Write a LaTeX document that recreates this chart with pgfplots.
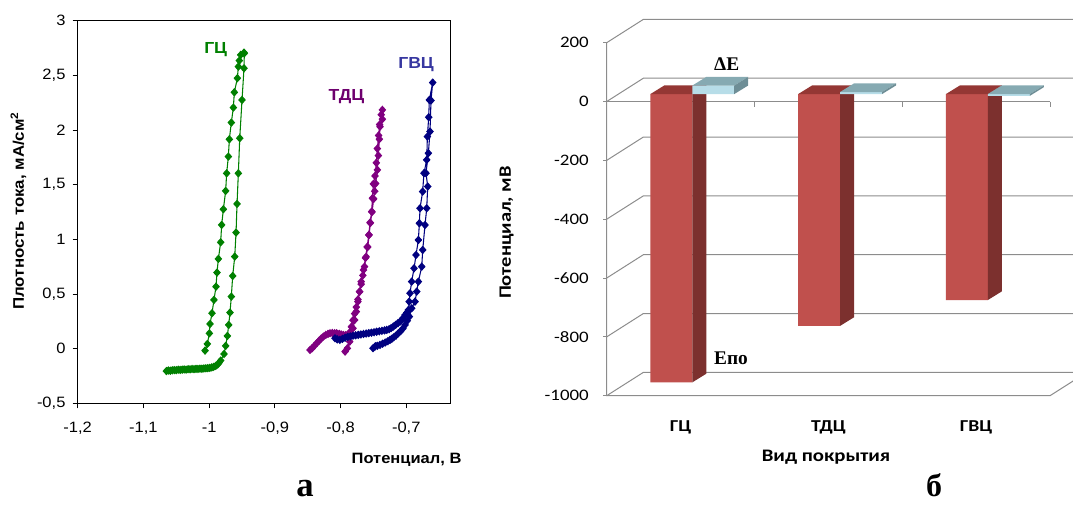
\documentclass[border=0pt]{standalone}
\usepackage{fontspec}
\setmainfont{Liberation Sans}[FakeStretch=1.1]
\newfontfamily\calib{Carlito}[FakeStretch=1.18]
\newfontfamily\tnr{Liberation Serif}
\usepackage{pgfplots}
\usepackage{pgfplotstable}
\pgfplotsset{compat=1.18}

\definecolor{gcz}{RGB}{0,128,0}
\definecolor{tdz}{RGB}{128,0,128}
\definecolor{gvz}{RGB}{0,0,128}
\definecolor{tdzlab}{RGB}{110,0,110}
\definecolor{gvzlab}{RGB}{55,55,160}
\definecolor{redfront}{RGB}{192,80,77}
\definecolor{redtop}{RGB}{148,55,52}
\definecolor{redside}{RGB}{124,48,46}
\definecolor{bluefront}{RGB}{183,221,232}
\definecolor{bluetop}{RGB}{134,170,178}
\definecolor{blueside}{RGB}{110,142,150}
\definecolor{gridc}{RGB}{140,140,140}

% potentials of the coatings, mV
\pgfplotstableread{
cat Epo dE
0 -980 29
1 -788 7
2 -700 -6
}\potdata

% bar plane offset and bar depth (pseudo 3D)
\def\bsx{8.74pt}\def\bsy{5.55pt}
\def\bdx{10.5pt}\def\bdy{6.5pt}

\newcommand\barfaces[5]{%
  \pgfmathsetmacro\ftop{max(#3,0)}%
  \pgfmathsetmacro\fbot{min(#3,0)}%
  \edef\tmp{%
    \noexpand\fill[#4] ([shift={(\bsx,\bsy)}]axis cs:#1,\ftop) -- ([shift={(\bsx,\bsy)}]axis cs:#2,\ftop)
      -- ([shift={(\bsx+\bdx,\bsy+\bdy)}]axis cs:#2,\ftop) -- ([shift={(\bsx+\bdx,\bsy+\bdy)}]axis cs:#1,\ftop) -- cycle;
    \noexpand\fill[#5] ([shift={(\bsx,\bsy)}]axis cs:#2,\ftop) -- ([shift={(\bsx,\bsy)}]axis cs:#2,\fbot)
      -- ([shift={(\bsx+\bdx,\bsy+\bdy)}]axis cs:#2,\fbot) -- ([shift={(\bsx+\bdx,\bsy+\bdy)}]axis cs:#2,\ftop) -- cycle;
  }\tmp}

\begin{document}
\begin{tikzpicture}
\useasboundingbox (0pt,0pt) rectangle (804.75pt,379.5pt);

%% ---------- panel a ----------
\begin{axis}[
  at={(58.275pt,77.025pt)}, anchor=south west,
  width=279.75pt, height=286.95pt, scale only axis,
  xmin=-1.2, xmax=-0.6323, ymin=-0.5, ymax=3,
  xtick={-1.2,-1.1,-1,-0.9,-0.8,-0.7},
  xticklabels={{-1,2},{-1,1},{-1},{-0,9},{-0,8},{-0,7}},
  ytick={-0.5,0,0.5,1,1.5,2,2.5,3},
  yticklabels={{-0,5},0,{0,5},1,{1,5},2,{2,5},3},
  tick align=outside, xtick pos=bottom, ytick pos=left,
  major tick length=3.75pt,
  tick style={black, line width=0.6pt},
  axis line style={black, line width=0.7pt},
  ticklabel style={font=\fontsize{11.25}{13}\selectfont},
  xticklabel style={anchor=base, inner sep=0pt, yshift=-18.5pt},
  yticklabel style={anchor=east, inner sep=0pt, xshift=-5.25pt},
  xlabel={Потенциал, В},
  xlabel style={at={(axis description cs:1.0295,-0.1568)}, anchor=base east,
    inner sep=0pt, font=\bfseries\fontsize{11.25}{13}\selectfont},
  ylabel={Плотность тока, мА/см\textsuperscript{2}},
  ylabel style={at={(axis description cs:-0.144,0.503)}, anchor=base,
    inner sep=0pt, font=\bfseries\fontsize{11.5}{13}\selectfont},
  every axis plot/.append style={line width=0.8pt, mark=diamond*, mark size=2.6pt,
    mark options={xscale=1.2, solid}},
]
% ГЦ
\addplot[gcz] table {
x y
-1.065 -0.205
-1.062 -0.200
-1.059 -0.202
-1.056 -0.198
-1.053 -0.196
-1.050 -0.197
-1.047 -0.193
-1.044 -0.195
-1.041 -0.192
-1.038 -0.190
-1.035 -0.192
-1.032 -0.188
-1.029 -0.189
-1.026 -0.186
-1.023 -0.188
-1.020 -0.185
-1.017 -0.186
-1.014 -0.183
-1.011 -0.184
-1.008 -0.181
-1.005 -0.180
-1.002 -0.178
-0.999 -0.176
-0.996 -0.172
-0.993 -0.166
-0.990 -0.158
-0.987 -0.145
-0.985 -0.130
-0.9824 -0.109
-0.9773 -0.049
-0.9748 0.025
-0.9722 0.116
-0.9702 0.217
-0.9682 0.330
-0.9662 0.476
-0.9641 0.665
-0.9610 0.842
-0.9590 1.062
-0.9575 1.324
-0.9555 1.604
-0.9534 1.925
-0.9499 2.275
-0.9469 2.565
-0.9464 2.702
-0.9469 2.708
-0.9519 2.687
-0.9540 2.635
-0.9555 2.580
-0.9570 2.474
-0.9616 2.345
-0.9631 2.205
-0.9662 2.068
-0.9692 1.915
-0.9707 1.757
-0.9733 1.604
-0.9748 1.443
-0.9783 1.275
-0.9809 1.132
-0.9824 0.973
-0.9859 0.821
-0.9880 0.696
-0.9895 0.567
-0.9926 0.446
-0.9956 0.324
-0.9986 0.226
-0.9996 0.140
-1.0027 0.043
-1.0062 -0.018
};
% ТДЦ
\addplot[tdz] table {
x y
-0.8464 -0.012
-0.8430 0.005
-0.8400 0.025
-0.8363 0.049
-0.8330 0.070
-0.8295 0.092
-0.8261 0.110
-0.8225 0.125
-0.8190 0.135
-0.8160 0.141
-0.8125 0.143
-0.8090 0.142
-0.8058 0.141
-0.8020 0.135
-0.7990 0.130
-0.7957 0.125
-0.7920 0.124
-0.7880 0.125
-0.7860 0.150
-0.7835 0.200
-0.7810 0.260
-0.7785 0.320
-0.7760 0.380
-0.7735 0.450
-0.7710 0.520
-0.7685 0.590
-0.7660 0.670
-0.7635 0.750
-0.7610 0.840
-0.7585 0.930
-0.7565 1.040
-0.7545 1.150
-0.7520 1.250
-0.7495 1.370
-0.7480 1.440
-0.7465 1.510
-0.7439 1.635
-0.7424 1.766
-0.7409 1.916
-0.7399 2.031
-0.7363 2.099
-0.7363 2.184
-0.7380 2.140
-0.7405 2.050
-0.7420 1.950
-0.7440 1.830
-0.7455 1.700
-0.7475 1.580
-0.7500 1.507
-0.7515 1.376
-0.7526 1.254
-0.7551 1.153
-0.7570 1.040
-0.7595 0.930
-0.7620 0.830
-0.7650 0.720
-0.7685 0.613
-0.7710 0.522
-0.7735 0.430
-0.7760 0.339
-0.7785 0.262
-0.7810 0.186
-0.7835 0.125
-0.7860 0.064
-0.7896 0.003
-0.7931 -0.027
};
% ГВЦ
\addplot[gvz] table {
x y
-0.8084 0.095
-0.8050 0.085
-0.8010 0.080
-0.7970 0.090
-0.7930 0.100
-0.7890 0.108
-0.7850 0.112
-0.7810 0.118
-0.7770 0.122
-0.7730 0.126
-0.7690 0.130
-0.7650 0.134
-0.7610 0.138
-0.7570 0.142
-0.7530 0.146
-0.7490 0.150
-0.7450 0.155
-0.7410 0.159
-0.7370 0.163
-0.7330 0.167
-0.7297 0.171
-0.7260 0.178
-0.7230 0.188
-0.7196 0.202
-0.7160 0.218
-0.7125 0.234
-0.7094 0.247
-0.7055 0.275
-0.7018 0.308
-0.6990 0.330
-0.6967 0.354
-0.6955 0.430
-0.6942 0.507
-0.6917 0.613
-0.6881 0.735
-0.6851 0.857
-0.6815 0.994
-0.6800 1.147
-0.6790 1.284
-0.6750 1.437
-0.6730 1.605
-0.6688 1.727
-0.6678 1.940
-0.6658 2.117
-0.6648 2.275
-0.6597 2.434
-0.6623 2.270
-0.6638 1.986
-0.6663 1.788
-0.6699 1.605
-0.6673 1.483
-0.6688 1.284
-0.6714 1.131
-0.6749 0.903
-0.6764 0.750
-0.6815 0.613
-0.6840 0.522
-0.6866 0.430
-0.6917 0.369
-0.6952 0.293
-0.6985 0.255
-0.7018 0.217
-0.7050 0.185
-0.7085 0.160
-0.7120 0.141
-0.7155 0.120
-0.7190 0.104
-0.7220 0.090
-0.7247 0.080
-0.7280 0.068
-0.7320 0.056
-0.7360 0.045
-0.7400 0.034
-0.7440 0.026
-0.7470 0.022
-0.7505 0.004
};
\node[font=\bfseries\fontsize{12}{14}\selectfont, text=gcz] at (axis cs:-0.990,2.74) {ГЦ};
\node[font=\bfseries\fontsize{12}{14}\selectfont, text=tdzlab] at (axis cs:-0.791,2.306) {ТДЦ};
\node[font=\bfseries\fontsize{12}{14}\selectfont, text=gvzlab] at (axis cs:-0.685,2.596) {ГВЦ};
\end{axis}

%% ---------- panel б ----------
\begin{axis}[
  at={(455.025pt,82.725pt)}, anchor=south west,
  width=332.5pt, height=264.75pt, scale only axis,
  xmin=-0.5, xmax=2.5, ymin=-1000, ymax=200,
  clip=false,
  axis line style={draw=none},
  tick style={draw=none},
  ytick={-1000,-800,-600,-400,-200,0,200},
  yticklabels={-1000,-800,-600,-400,-200,0,200},
  xtick={0,1,2}, xticklabels={ГЦ,ТДЦ,ГВЦ},
  yticklabel style={anchor=east, inner sep=0pt, xshift=-13.3pt,
    font=\calib\fontsize{12}{13}\selectfont},
  xticklabel style={anchor=base, inner sep=0pt, yshift=-26.5pt,
    font=\calib\bfseries\fontsize{12.5}{14}\selectfont},
  xlabel={Вид покрытия},
  xlabel style={at={(axis description cs:0.4947,-0.1864)}, anchor=base,
    inner sep=0pt, font=\calib\bfseries\fontsize{13.2}{15}\selectfont},
  ylabel={Потенциал, мВ},
  ylabel style={at={(axis description cs:-0.2159,0.4623)}, anchor=base,
    inner sep=0pt, font=\calib\bfseries\fontsize{13}{15}\selectfont},
]
% walls
\pgfplotsinvokeforeach{-1000,-800,-600,-400,-200,0,200}{
  \draw[gridc, line width=0.75pt] (axis cs:-0.5,#1) -- ++(27.5pt,17.5pt)
    -- ([shift={(27.5pt,17.5pt)}]axis cs:2.75,#1);
  \draw[gridc, line width=0.75pt] (axis cs:-0.5,#1) -- ++(-3pt,0pt);
}
\draw[gridc, line width=0.75pt] (axis cs:-0.5,200) -- (axis cs:-0.5,-1000)
  -- (axis cs:2.5,-1000) -- ++(27.5pt,17.5pt);
\draw[gridc, line width=0.75pt] (axis cs:-0.5,0) -- (axis cs:2.5,0);
\pgfplotsinvokeforeach{0.5,1.5,2.5}{
  \draw[gridc, line width=0.75pt] (axis cs:#1,0) -- ++(0pt,-3.75pt);
}
% E_po bars
\addplot[ybar, bar width=0.284, bar shift=-0.142, fill=redfront, draw=none,
  xshift=\bsx, yshift=\bsy] table[x=cat, y=Epo] {\potdata};
\pgfplotsinvokeforeach{0,1,2}{%
  \pgfplotstablegetelem{#1}{Epo}\of\potdata
  \pgfmathsetmacro\xa{#1-0.284}%
  \barfaces{\xa}{#1}{\pgfplotsretval}{redtop}{redside}%
}
% delta E bars
\addplot[ybar, bar width=0.284, bar shift=0.142, fill=bluefront, draw=none,
  xshift=\bsx, yshift=\bsy] table[x=cat, y=dE] {\potdata};
\pgfplotsinvokeforeach{0,1,2}{%
  \pgfplotstablegetelem{#1}{dE}\of\potdata
  \pgfmathsetmacro\xb{#1+0.284}%
  \barfaces{#1}{\xb}{\pgfplotsretval}{bluetop}{blueside}%
}
\end{axis}

% annotations
\node[font=\tnr\bfseries\fontsize{14.5}{16}\selectfont, anchor=base] at (545.03pt,326.48pt) {ΔE};
\node[font=\tnr\bfseries\fontsize{14.5}{16}\selectfont, anchor=base] at (548.25pt,105.75pt) {Eпо};
\node[font=\tnr\bfseries\fontsize{26}{30}\selectfont, anchor=base, inner sep=0pt] at (228.75pt,7pt) {а};
\node[font=\tnr\bfseries\fontsize{24}{28}\selectfont, anchor=base, inner sep=0pt] at (700.5pt,7pt) {б};
\end{tikzpicture}
\end{document}
